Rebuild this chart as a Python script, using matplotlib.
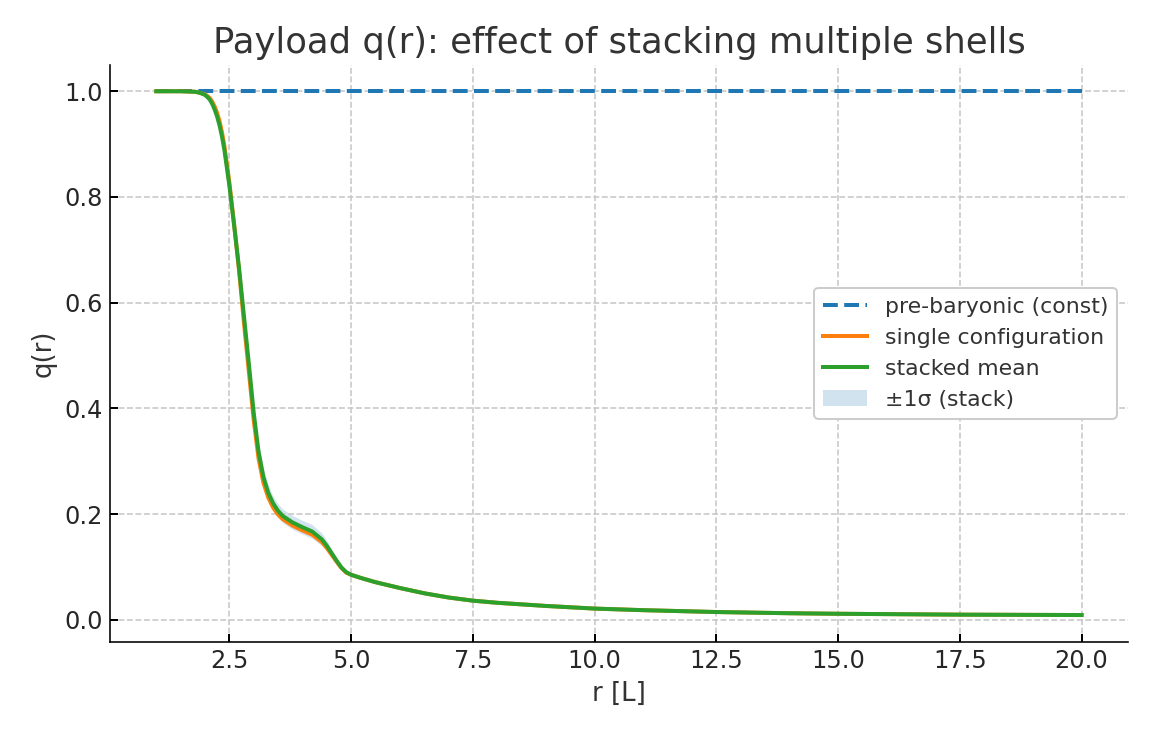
import numpy as np
import matplotlib
matplotlib.use("Agg")
import matplotlib.pyplot as plt

# radius samples
r = [1.0, 1.5, 1.8, 1.9, 2.0, 2.05, 2.1, 2.15, 2.2, 2.25, 2.3, 2.35, 2.4, 2.5,
     2.6, 2.7, 2.8, 2.9, 3.0, 3.1, 3.2, 3.3, 3.4, 3.5, 3.6, 3.8, 4.0, 4.2,
     4.4, 4.5, 4.6, 4.7, 4.8, 4.9, 5.0, 5.2, 5.5, 6.0, 6.5, 7.0, 7.5, 8.0,
     9.0, 10.0, 11.0, 12.5, 14.0, 15.0, 17.5, 20.0]

q_stack = [1.0, 1.0, 0.999, 0.997, 0.993, 0.989, 0.984, 0.976, 0.965, 0.952,
           0.935, 0.914, 0.888, 0.822, 0.745, 0.665, 0.575, 0.485, 0.392,
           0.318, 0.270, 0.240, 0.220, 0.206, 0.196, 0.184, 0.175, 0.167,
           0.152, 0.140, 0.126, 0.112, 0.099, 0.090, 0.085, 0.079, 0.071,
           0.060, 0.050, 0.042, 0.036, 0.032, 0.026, 0.021, 0.018, 0.0145,
           0.0122, 0.0112, 0.0095, 0.0088]

q_single = [1.0, 1.0, 0.999, 0.997, 0.994, 0.991, 0.987, 0.980, 0.971, 0.959,
            0.943, 0.922, 0.896, 0.828, 0.747, 0.660, 0.562, 0.470, 0.378,
            0.305, 0.259, 0.231, 0.212, 0.199, 0.190, 0.178, 0.169, 0.161,
            0.147, 0.136, 0.123, 0.110, 0.098, 0.089, 0.085, 0.079, 0.071,
            0.060, 0.050, 0.042, 0.036, 0.032, 0.026, 0.021, 0.018, 0.0145,
            0.0122, 0.0112, 0.0095, 0.0088]

sigma = [0.0005, 0.0005, 0.0005, 0.001, 0.003, 0.004, 0.006, 0.008, 0.010,
         0.012, 0.013, 0.015, 0.017, 0.018, 0.018, 0.018, 0.018, 0.018,
         0.018, 0.017, 0.016, 0.015, 0.013, 0.013, 0.013, 0.013, 0.013,
         0.013, 0.012, 0.010, 0.008, 0.006, 0.004, 0.003, 0.002, 0.002,
         0.002, 0.0015, 0.0015, 0.001, 0.001, 0.001, 0.001, 0.001, 0.001,
         0.001, 0.001, 0.001, 0.001, 0.001]

q_const = 1.0

plt.rcParams['font.family'] = ['DejaVu Sans']
plt.rcParams['text.color'] = '#333333'
plt.rcParams['axes.labelcolor'] = '#333333'

fig = plt.figure(figsize=(8, 736 / 144), dpi=144)
ax = fig.add_axes([0.0955, 0.128, 0.8835, 0.784])

r = np.array(r)
q_stack = np.array(q_stack)
sigma = np.array(sigma)

ax.plot([r[0], r[-1]], [q_const, q_const], '--', color='#1f77b4', lw=2,
        label='pre-baryonic (const)')
ax.plot(r, q_single, color='#ff7f0e', lw=2, label='single configuration')
ax.plot(r, q_stack, color='#2ca02c', lw=2, label='stacked mean')
ax.fill_between(r, q_stack - sigma, q_stack + sigma, color='#1f77b4',
                alpha=0.2, lw=0, label='±1σ (stack)')

ax.set_title('Payload q(r): effect of stacking multiple shells', fontsize=17.7,
             color='#333333')
ax.set_xlabel('r [L]', fontsize=13)
ax.set_ylabel('q(r)', fontsize=13)
ax.set_xticks([2.5, 5.0, 7.5, 10.0, 12.5, 15.0, 17.5, 20.0])
ax.set_yticks([0.0, 0.2, 0.4, 0.6, 0.8, 1.0])
ax.tick_params(labelsize=12, labelcolor='#262626', direction='in', length=4,
               width=1)

ax.grid(True, ls='--', color='#c8c8c8', lw=0.8)
ax.spines['top'].set_visible(False)
ax.spines['right'].set_visible(False)

leg = ax.legend(loc='center right', fontsize=11, labelspacing=0.5,
                framealpha=1)
leg.get_frame().set_edgecolor('#cccccc')

fig.savefig('out.png', dpi=144)
